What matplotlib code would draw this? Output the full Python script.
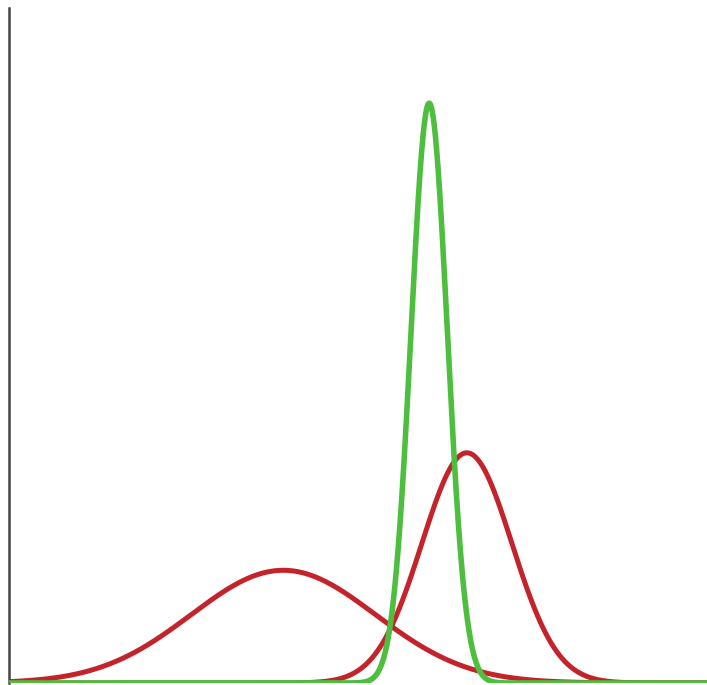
import numpy as np
import matplotlib
matplotlib.use("Agg")
import matplotlib.pyplot as plt

# Gaussian curve parameters (x in 0-100 axis units, y in 0-1)
series_names = ["red_wide", "red_narrow", "green"]
means = [39.3, 65.6, 60.2]
sigmas = [13.2, 6.45, 2.6]
peaks = [0.167, 0.341, 0.859]
colors = ["#C4232B", "#C4232B", "#4DBE3E"]
linewidths = [3.6, 3.6, 4.0]

x_min, x_max = 0, 100
y_min, y_max = 0, 1

fig = plt.figure(figsize=(7.07, 6.85), dpi=100)
ax = fig.add_axes([9/707, 2/685, 698/707, 675/685])

x = np.linspace(x_min, x_max, 2000)
for name, m, s, p, c, lw in zip(series_names, means, sigmas, peaks, colors, linewidths):
    y = p * np.exp(-0.5 * ((x - m) / s) ** 2)
    ax.plot(x, y, color=c, lw=lw, solid_capstyle="round",
            zorder=3 if name == "green" else 2)

ax.set_xlim(x_min, x_max)
ax.set_ylim(y_min, y_max)
for side in ["top", "right", "bottom"]:
    ax.spines[side].set_visible(False)
ax.spines["left"].set_color("#444444")
ax.spines["left"].set_linewidth(1.8)
ax.set_xticks([])
ax.set_yticks([])

fig.savefig("out.png", dpi=100)
